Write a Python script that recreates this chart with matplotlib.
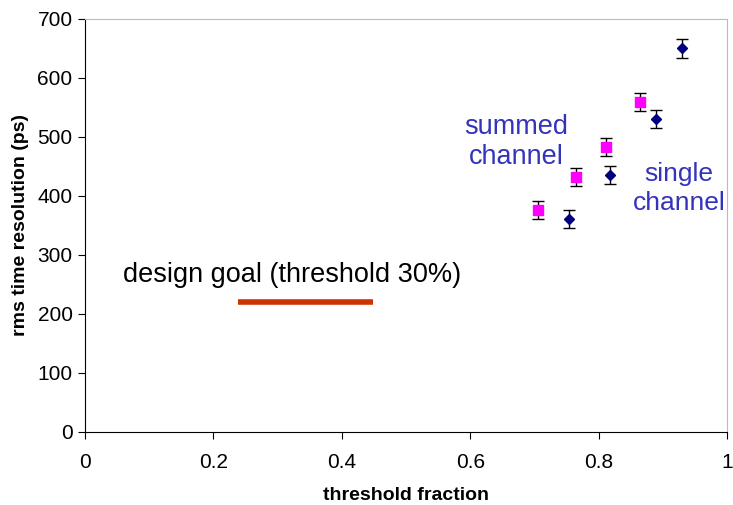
import matplotlib.pyplot as plt

plt.rcParams['font.family'] = ['Liberation Sans', 'DejaVu Sans']

# single channel (navy diamonds)
singleX = [0.754, 0.817, 0.889, 0.930]
singleY = [361, 435, 530, 650]
singleErr = [15, 15, 15, 16]

# summed channel (magenta squares)
summedX = [0.705, 0.765, 0.811, 0.865]
summedY = [376, 432, 483, 559]
summedErr = [15, 15, 15, 15]

# design goal
goalX = [0.238, 0.448]
goalY = [220, 220]

xTicks = [0, 0.2, 0.4, 0.6, 0.8, 1]
xTickLabels = ['0', '0.2', '0.4', '0.6', '0.8', '1']
yTicks = [0, 100, 200, 300, 400, 500, 600, 700]

fig = plt.figure(figsize=(7.33, 5.05), dpi=100)
ax = fig.add_axes([0.116, 0.1446, 0.876, 0.8178])

ax.errorbar(summedX, summedY, yerr=summedErr, fmt='s', color='#FF00FF',
            markersize=6.5, ecolor='black', elinewidth=1, capsize=4.5, capthick=1)
ax.errorbar(singleX, singleY, yerr=singleErr, fmt='D', color='#000080',
            markersize=5.5, ecolor='black', elinewidth=1, capsize=4.5, capthick=1)

ax.plot(goalX, goalY, color='#CC3300', linewidth=4, solid_capstyle='butt')

ax.text(0.322, 266, 'design goal (threshold 30%)', fontsize=19.5,
        ha='center', va='center', color='black')
ax.text(0.671, 491, 'summed\nchannel', fontsize=19.5, ha='center',
        va='center', color='#3333BB', linespacing=1.22)
ax.text(0.925, 413, 'single\nchannel', fontsize=19, ha='center',
        va='center', color='#3333BB', linespacing=1.24)

ax.set_xlim(0, 1)
ax.set_ylim(0, 700)
ax.set_xticks(xTicks)
ax.set_xticklabels(xTickLabels)
ax.set_yticks(yTicks)
ax.tick_params(direction='out', length=5, labelsize=15)
ax.tick_params(axis='x', pad=10)
ax.tick_params(axis='y', pad=4)

ax.set_xlabel('threshold fraction', fontsize=14, fontweight='bold', labelpad=11)
ax.set_ylabel('rms time resolution (ps)', fontsize=14, fontweight='bold', labelpad=6)

ax.spines['top'].set_color('#bbbbbb')
ax.spines['right'].set_color('#bbbbbb')

fig.savefig('out.png', dpi=100)
